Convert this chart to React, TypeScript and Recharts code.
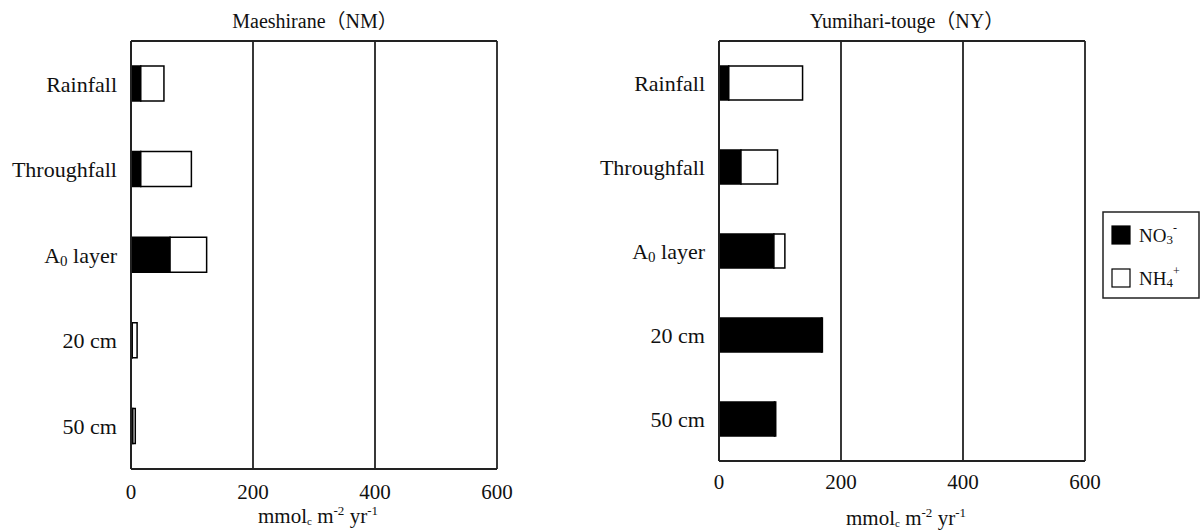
import { Bar, BarChart, CartesianGrid, Label, XAxis, YAxis } from "recharts";

// Annual nitrogen flux by pathway, mmolc m-2 yr-1
const categories = ["Rainfall", "Throughfall", "A0 layer", "20 cm", "50 cm"];
const nmNitrate = [16, 16, 64, 2, 3];
const nmAmmonium = [38, 83, 60, 8, 4];
const nyNitrate = [16, 36, 90, 168, 91];
const nyAmmonium = [121, 60, 18, 1.5, 2];
const xTicks = [0, 200, 400, 600];

const FONT = '"Liberation Serif", "Noto Sans CJK JP", serif';
const INK = "#111";

const buildRows = (no3: number[], nh4: number[]) =>
  categories.map((name, i) => ({ name, no3: no3[i], nh4: nh4[i] }));

// category label, with the subscript in "A0 layer"
function CategoryTick(props: any) {
  const { x, y, payload } = props;
  const value: string = payload.value;
  if (value.startsWith("A0")) {
    return (
      <text x={x} y={y} dy="0.35em" textAnchor="end" fontFamily={FONT} fontSize={22} fill={INK}>
        <tspan>A</tspan>
        <tspan fontSize={15} dy={3}>0</tspan>
        <tspan dy={-3}>{value.slice(2)}</tspan>
      </text>
    );
  }
  return (
    <text x={x} y={y} dy="0.35em" textAnchor="end" fontFamily={FONT} fontSize={22} fill={INK}>
      {value}
    </text>
  );
}

const valueTick = (offset: number) => (props: any) => {
  const { x, y, payload } = props;
  return (
    <text x={x} y={y + offset} textAnchor="middle" fontFamily={FONT} fontSize={21} fill={INK}>
      {payload.value}
    </text>
  );
};

// unit label: mmol_c m^-2 yr^-1
const unitLabel = (offset: number) => (props: any) => {
  const { viewBox } = props;
  const cx = viewBox.x + viewBox.width / 2 + 4;
  return (
    <text x={cx} y={viewBox.y + offset} textAnchor="middle" fontFamily={FONT} fontSize={21} fill={INK}>
      <tspan>mmol</tspan>
      <tspan fontSize={11} dy={2}>c</tspan>
      <tspan dy={-2}> m</tspan>
      <tspan fontSize={13} dy={-8}>-2</tspan>
      <tspan dy={8}> yr</tspan>
      <tspan fontSize={13} dy={-8}>-1</tspan>
    </text>
  );
};

// box edges: top and bottom of the plot area
const boxEdges = ({ offset }: any) => [offset.top, offset.top + offset.height];

interface PanelProps {
  title: string;
  no3: number[];
  nh4: number[];
  left: number;
  bottomMargin: number;
  tickOffset: number;
  unitOffset: number;
  barSize: number;
  titleShift: number;
}

function Panel({ title, no3, nh4, left, bottomMargin, tickOffset, unitOffset, barSize, titleShift }: PanelProps) {
  const rows = buildRows(no3, nh4);
  return (
    <div style={{ position: "absolute", left, top: 0 }}>
      <div
        style={{
          position: "absolute",
          left: 131 + titleShift,
          top: 8,
          width: 366,
          textAlign: "center",
          fontFamily: FONT,
          fontSize: 20,
          lineHeight: "26px",
          color: INK,
          whiteSpace: "nowrap",
        }}
      >
        {title}
      </div>
      <BarChart
        width={530}
        height={531}
        data={rows}
        layout="vertical"
        margin={{ top: 41, right: 33, left: 0, bottom: bottomMargin }}
      >
        <CartesianGrid
          stroke="#222"
          strokeWidth={1.8}
          horizontalCoordinatesGenerator={boxEdges}
        />
        <XAxis
          type="number"
          domain={[0, 600]}
          ticks={xTicks}
          height={30}
          tickSize={0}
          tickMargin={0}
          tick={valueTick(tickOffset)}
          axisLine={{ stroke: "#222", strokeWidth: 2 }}
          tickLine={false}
        >
          <Label content={unitLabel(unitOffset)} />
        </XAxis>
        <YAxis
          type="category"
          dataKey="name"
          width={131}
          tickSize={0}
          tickMargin={14}
          tick={<CategoryTick />}
          tickLine={false}
          axisLine={{ stroke: "#222", strokeWidth: 2 }}
        />
        <Bar
          dataKey="no3"
          stackId="n"
          fill="#000"
          stroke="#000"
          strokeWidth={1.5}
          barSize={barSize}
          isAnimationActive={false}
        />
        <Bar
          dataKey="nh4"
          stackId="n"
          fill="#fff"
          stroke="#000"
          strokeWidth={1.5}
          barSize={barSize}
          isAnimationActive={false}
        />
      </BarChart>
    </div>
  );
}

const legendItems = [
  { name: "NO", sub: "3", sup: "-", fill: "#000" },
  { name: "NH", sub: "4", sup: "+", fill: "#fff" },
];

function IonLegend() {
  return (
    <svg width={98} height={88} style={{ position: "absolute", left: 1102, top: 211 }}>
      <rect x={1} y={1} width={96} height={86} fill="#fff" stroke="#222" strokeWidth={1.5} />
      {legendItems.map((item, i) => (
        <g key={item.name} transform={`translate(0, ${i * 43})`}>
          <rect x={10} y={15} width={18} height={18} fill={item.fill} stroke="#000" strokeWidth={1.2} />
          <text x={37} y={31} fontFamily={FONT} fontSize={19} fill={INK}>
            <tspan>{item.name}</tspan>
            <tspan fontSize={13} dy={2}>{item.sub}</tspan>
            <tspan fontSize={12} dy={-12}>{item.sup}</tspan>
          </text>
        </g>
      ))}
    </svg>
  );
}

export default function App() {
  return (
    <div
      style={{
        position: "absolute",
        left: 0,
        top: 0,
        width: 1202,
        height: 531,
        background: "#fff",
        overflow: "hidden",
      }}
    >
      <Panel
        title="Maeshirane（NM）"
        no3={nmNitrate}
        nh4={nmAmmonium}
        left={0}
        bottomMargin={32}
        tickOffset={30}
        unitOffset={54}
        barSize={35}
        titleShift={1}
      />
      <Panel
        title="Yumihari-touge（NY）"
        no3={nyNitrate}
        nh4={nyAmmonium}
        left={588}
        bottomMargin={40}
        tickOffset={28}
        unitOffset={64}
        barSize={34}
        titleShift={5}
      />
      <IonLegend />
    </div>
  );
}
